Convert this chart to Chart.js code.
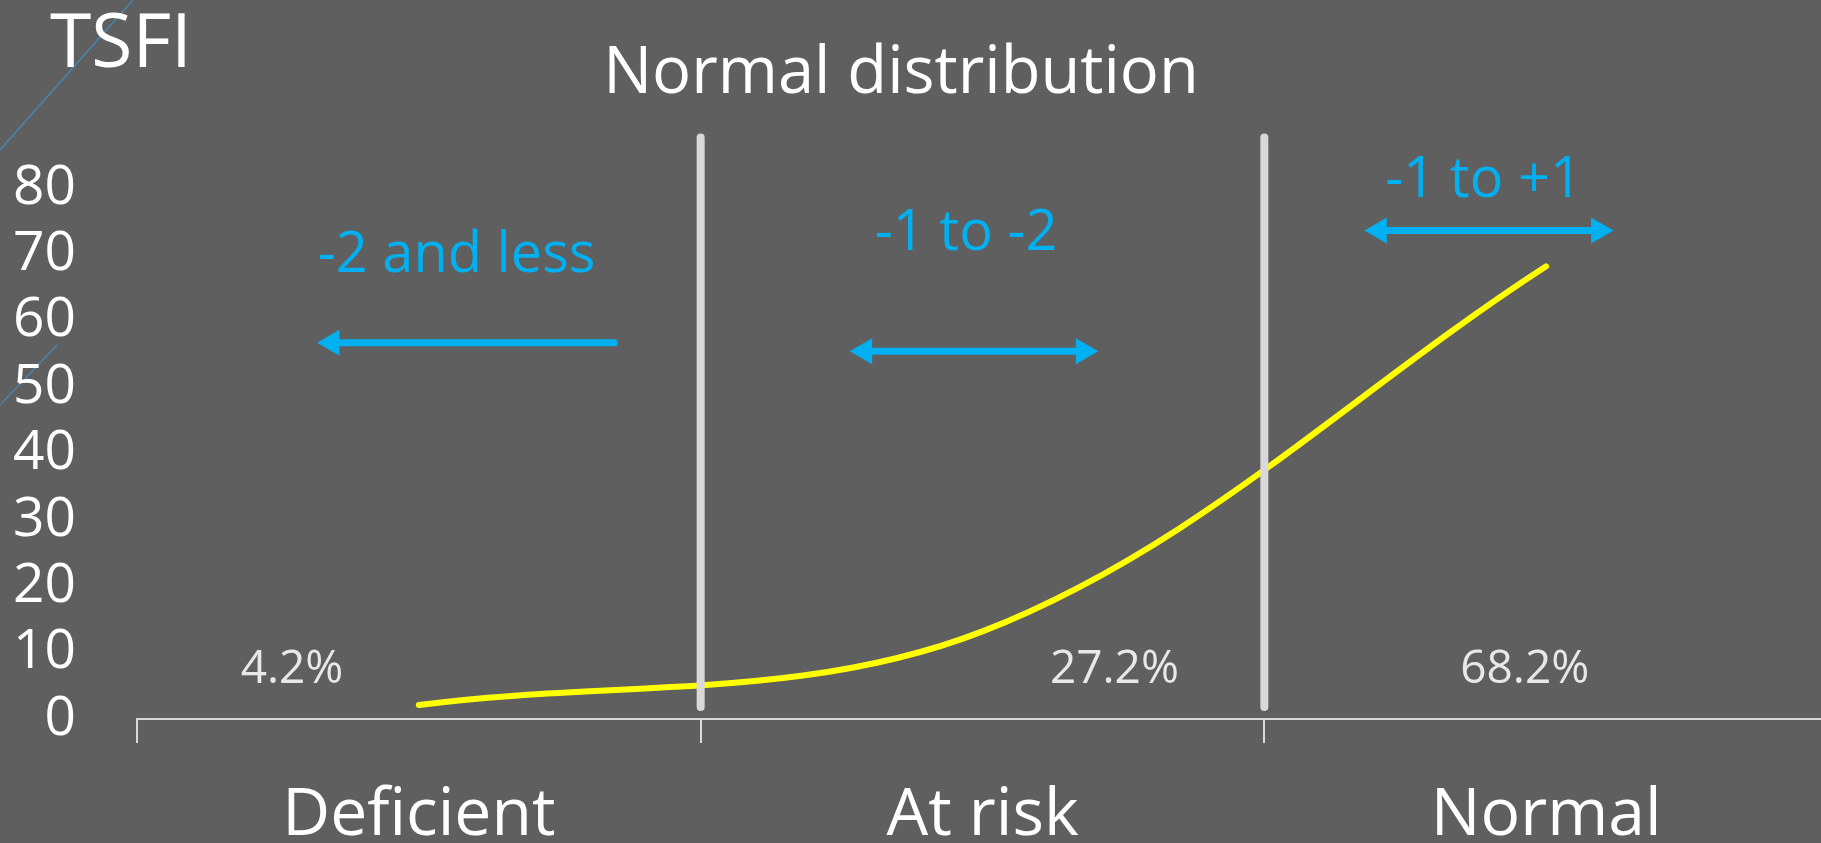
<!DOCTYPE html>
<html>
<head>
<meta charset="utf-8">
<title>TSFI - Normal distribution</title>
<script src="https://cdn.jsdelivr.net/npm/chart.js@4.4.1/dist/chart.umd.min.js"></script>
<style>
  html, body { margin: 0; padding: 0; background: #5f5f5f; overflow: hidden; }
  #wrap { position: relative; width: 1843px; height: 843px; }
  #deco { position: absolute; left: 0; top: 0; }
  #myChart { position: absolute; left: 0; top: 0; }
</style>
</head>
<body>
<div id="wrap">
  <svg id="deco" width="200" height="420">
    <line x1="133" y1="0" x2="0" y2="150" stroke="#4a84ad" stroke-width="1.5" />
    <line x1="57" y1="345" x2="0" y2="405" stroke="#4a84ad" stroke-width="1.5" />
  </svg>
  <canvas id="myChart" width="1843" height="843"></canvas>
</div>
<script>
// data
const categories = ['Deficient', 'At risk', 'Normal']
const curveValues = [2.1, 13.2, 68.2]
const yTickLabels = ['0', '10', '20', '30', '40', '50', '60', '70', '80']

const chartTitle = 'Normal distribution'
const yTitle = 'TSFI'

const percentLabels = ['4.2%', '27.2%', '68.2%']
const percentX = [-0.225, 1.234, 1.962]
const percentY = [5.4, 5.4, 5.4]

const rangeLabels = ['-2 and less', '-1 to -2', '-1 to +1']
const rangeLabelX = [0.067, 0.971, 1.889]
const rangeLabelY = [67.3, 70.7, 78.7]

// arrows, in category units (0 = first category centre) and TSFI units
const arrowStart = [-0.154, 0.791, 1.704]
const arrowEnd = [0.347, 1.179, 2.093]
const arrowY = [56.7, 55.4, 73.6]
const arrowHeadStart = [true, true, true]
const arrowHeadEnd = [false, true, true]

// the two white dividers between the groups
const dividerX = [0.5, 1.5]
const dividerFrom = 1.8
const dividerTo = 87.6

const FONT = 'Open Sans'
const BLUE = '#00b0f0'

const datasets = []

dividerX.forEach((x) => {
  datasets.push({
    xAxisID: 'x2',
    data: [
      { x: x, y: dividerFrom },
      { x: x, y: dividerTo },
    ],
    borderColor: '#d9d9d9',
    borderWidth: 8,
    borderCapStyle: 'round',
    pointRadius: 0,
    clip: false,
    order: 0,
  })
})

arrowStart.forEach((x0, i) => {
  datasets.push({
    xAxisID: 'x2',
    data: [
      { x: x0, y: arrowY[i] },
      { x: arrowEnd[i], y: arrowY[i] },
    ],
    borderColor: BLUE,
    borderWidth: 7,
    borderCapStyle: 'round',
    pointStyle: 'triangle',
    pointRotation: [270, 90],
    pointRadius: [arrowHeadStart[i] ? 15 : 0, arrowHeadEnd[i] ? 15 : 0],
    pointBackgroundColor: BLUE,
    pointBorderWidth: 0,
    clip: false,
    order: 1,
  })
})

datasets.push({
  xAxisID: 'x',
  data: curveValues,
  borderColor: '#ffff00',
  borderWidth: 6,
  borderCapStyle: 'round',
  tension: 0.35,
  pointRadius: 0,
  clip: false,
  order: 2,
})

const textPlugin = {
  id: 'texts',
  afterDatasetsDraw(chart) {
    const ctx = chart.ctx
    const xs = chart.scales.x2
    const ys = chart.scales.y
    ctx.save()
    ctx.textAlign = 'center'
    ctx.textBaseline = 'alphabetic'

    ctx.font = '46px "' + FONT + '"'
    ctx.fillStyle = '#e8e8e8'
    percentLabels.forEach((t, i) => {
      ctx.fillText(t, xs.getPixelForValue(percentX[i]), ys.getPixelForValue(percentY[i]))
    })

    ctx.font = '56px "' + FONT + '"'
    ctx.fillStyle = BLUE
    rangeLabels.forEach((t, i) => {
      ctx.fillText(t, xs.getPixelForValue(rangeLabelX[i]), ys.getPixelForValue(rangeLabelY[i]))
    })

    ctx.fillStyle = '#ffffff'
    ctx.font = '65px "' + FONT + '"'
    ctx.fillText(chartTitle, 901, 93)
    ctx.font = '75px "' + FONT + '"'
    ctx.fillText(yTitle, 121, 67)
    ctx.restore()
  },
}

new Chart(document.getElementById('myChart'), {
  type: 'line',
  data: { labels: categories, datasets: datasets },
  plugins: [textPlugin],
  options: {
    responsive: false,
    animation: false,
    events: [],
    layout: { padding: { top: 188, left: 13, right: 0, bottom: 0 } },
    plugins: {
      legend: { display: false },
      tooltip: { enabled: false },
      title: { display: false },
    },
    scales: {
      x: {
        type: 'category',
        offset: true,
        grid: {
          offset: true,
          drawOnChartArea: false,
          drawTicks: true,
          tickLength: 24,
          color: '#d9d9d9',
          lineWidth: 2,
        },
        border: { display: true, color: '#d9d9d9', width: 2 },
        ticks: {
          color: '#ffffff',
          font: { family: FONT, size: 66 },
          padding: 34,
          maxRotation: 0,
          autoSkip: false,
        },
        afterFit: (s) => {
          s.height = 124
        },
      },
      x2: { type: 'linear', display: false, min: -0.5, max: 2.5 },
      y: {
        min: 0,
        max: 80,
        grid: { display: false, drawTicks: false },
        border: { display: false },
        ticks: {
          stepSize: 10,
          autoSkip: false,
          color: '#ffffff',
          font: { family: FONT, size: 55 },
          padding: 61,
          callback: (value, index) => yTickLabels[index],
        },
        afterFit: (s) => {
          s.width = 124
        },
      },
    },
  },
})
</script>
</body>
</html>
